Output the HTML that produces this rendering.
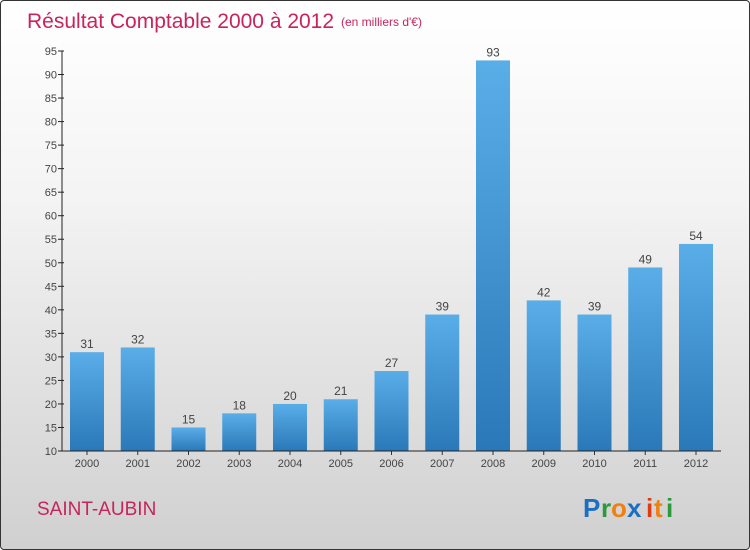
<!DOCTYPE html>
<html><head><meta charset="utf-8"><style>
html,body{margin:0;padding:0;width:750px;height:550px;overflow:hidden}
#wrap{position:relative;width:748px;height:548px;border:1px solid #333;border-radius:4px;background:linear-gradient(#ffffff 0%,#f4f4f4 35%,#d0d0d0 100%);font-family:"Liberation Sans",sans-serif}
svg{position:absolute;left:0;top:0}
</style></head><body>
<div id="wrap">
<svg id="chart" width="750" height="550">
<defs><linearGradient id="bg" x1="0" y1="0" x2="0" y2="1"><stop offset="0" stop-color="#5aaee8"/><stop offset="1" stop-color="#2a78b8"/></linearGradient></defs>
<text x="26" y="27" font-size="21" fill="#c8245a">Résultat Comptable 2000 à 2012</text>
<text x="340" y="25" font-size="12" fill="#c8245a">(en milliers d'€)</text>
<text x="36" y="514" font-size="19" fill="#c8245a">SAINT-AUBIN</text>
<g font-size="26" font-weight="bold" font-family="Liberation Sans,sans-serif">
<text x="582" y="516" fill="#1a6fc4">P</text><text x="600" y="516" fill="#2a9a3a">r</text><text x="610" y="516" fill="#f08010">o</text><text x="626" y="516" fill="#1a6fc4">x</text><text x="645" y="516" fill="#e03a10">i</text><text x="653" y="516" fill="#f08010">t</text><text x="665" y="516" fill="#2a9a3a">i</text>
</g>
</svg>
</div>
<script>
const categories=["2000","2001","2002","2003","2004","2005","2006","2007","2008","2009","2010","2011","2012"];
const values=[31,32,15,18,20,21,27,39,93,42,39,49,54];
const yTicks=[10,15,20,25,30,35,40,45,50,55,60,65,70,75,80,85,90,95];
const NS="http://www.w3.org/2000/svg";
const svgEl=document.getElementById('chart');
const yMin=10,yMax=95,plotTop=50,plotBot=450,axX=61;
function yS(v){return plotBot-(v-yMin)/(yMax-yMin)*(plotBot-plotTop);}
const step=50.75,x0=86;
function xS(i){return x0+i*step;}
function mk(t,a){const e=document.createElementNS(NS,t);for(const k in a)e.setAttribute(k,a[k]);svgEl.appendChild(e);return e;}
values.forEach((v,i)=>{
 const r=mk('rect',{x:xS(i)-17,y:yS(v),width:34,height:plotBot-yS(v),fill:'url(#bg)'});
 
 
 const t=mk('text',{x:xS(i),y:yS(v)-4,'text-anchor':'middle','font-size':12,fill:'#444'});
 t.textContent=v;
 
 
 const c=mk('text',{x:xS(i),y:plotBot+16,'text-anchor':'middle','font-size':11,fill:'#444'});
 c.textContent=categories[i];
 
 
 const tk=mk('line',{x1:xS(i),x2:xS(i),y1:plotBot,y2:plotBot+4,stroke:'#333'});
 
 
});
yTicks.forEach(v=>{
 const l=mk('line',{x1:axX-4,x2:axX+2,y1:yS(v),y2:yS(v),stroke:'#222'});
 
 
 const t=mk('text',{x:axX-5,y:yS(v)+4,'text-anchor':'end','font-size':11,fill:'#444'});
 t.textContent=v;
 
 
});
const ya=mk('line',{x1:axX,x2:axX,y1:plotTop,y2:plotBot,stroke:'#222'});


const xa=mk('line',{x1:axX,x2:720,y1:plotBot,y2:plotBot,stroke:'#222'});


</script>
</body></html>
